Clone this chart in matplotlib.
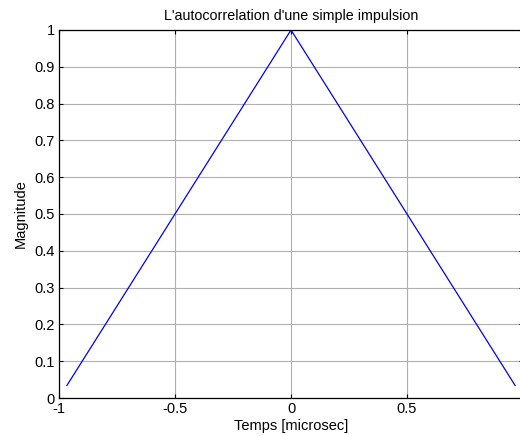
import matplotlib
matplotlib.use("Agg")
import matplotlib.pyplot as plt

# Data: autocorrelation of a simple rectangular pulse (triangle)
time_us = [-0.966, 0.0, 0.966]
magnitude = [0.034, 1.0, 0.034]
xticks = [-1, -0.5, 0, 0.5]
xticklabels = ["-1", "-0.5", "0", "0.5"]
yticks = [0, 0.1, 0.2, 0.3, 0.4, 0.5, 0.6, 0.7, 0.8, 0.9, 1]
yticklabels = ["0", "0.1", "0.2", "0.3", "0.4", "0.5", "0.6", "0.7", "0.8", "0.9", "1"]

plt.rcParams['font.family'] = ['Liberation Sans', 'DejaVu Sans']

fig = plt.figure(figsize=(5.2, 4.36), dpi=100)
ax = fig.add_axes([59/520, 1 - 398/436, 464/520, 368/436])

ax.plot(time_us, magnitude, color='#0000ff', linewidth=0.9)
ax.set_xlim(-1, 1)
ax.set_ylim(0, 1)
ax.set_xticks(xticks)
ax.set_xticklabels(xticklabels)
ax.set_yticks(yticks)
ax.set_yticklabels(yticklabels)
ax.grid(True, color='#b0b0b0', linewidth=0.8, linestyle='-')
ax.set_axisbelow(True)
ax.tick_params(direction='in', length=3, labelsize=10.5, width=0.8, pad=3,
               top=True, right=True)
for s in ax.spines.values():
    s.set_linewidth(0.9)
ax.set_title("L'autocorrelation d'une simple impulsion", fontsize=10.3, pad=7)
ax.set_xlabel("Temps [microsec]", fontsize=10.5, labelpad=2)
ax.set_ylabel("Magnitude", fontsize=10.5, labelpad=5)

fig.savefig("out.png", dpi=100)
